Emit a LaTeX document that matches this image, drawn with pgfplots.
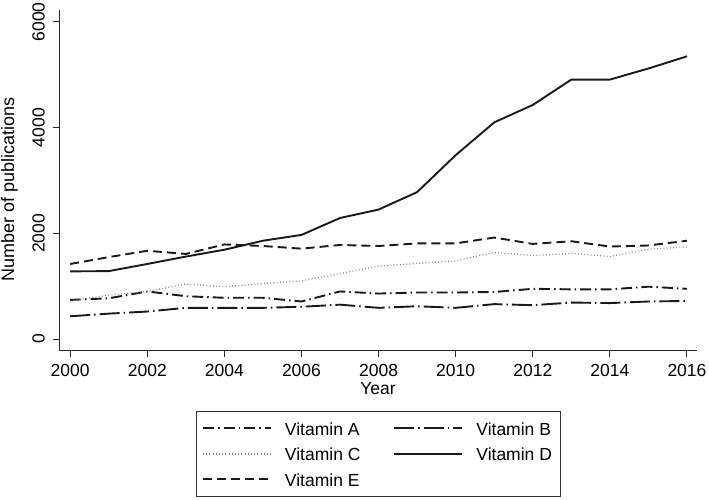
\documentclass[border=0pt]{standalone}
\usepackage{fontspec}
\setmainfont{Liberation Sans}
\usepackage{pgfplots}
\pgfplotsset{compat=1.18}
\begin{document}
\fontsize{17.5}{21}\selectfont
\begin{tikzpicture}[x=1pt,y=1pt]
\useasboundingbox (0,0) rectangle (709,500);
\begin{axis}[
  at={(59pt,149pt)}, anchor=south west,
  scale only axis, width=638pt, height=341pt,
  xmin=1999.71, xmax=2016.26, ymin=-227, ymax=6227,
  axis x line*=bottom, axis y line*=left,
  axis line style={line width=1pt, black!85},
  tick align=outside, major tick length=6pt,
  tick style={line width=1pt, black!85},
  xtick={2000,2002,...,2016}, ytick={0,2000,4000,6000},
  scaled ticks=false,
  /pgf/number format/assume math mode=true,
  /pgf/number format/set thousands separator={},
  tick label style={font=\fontsize{17.5}{21}\selectfont},
  yticklabel style={rotate=90, anchor=south, inner sep=0pt, yshift=8pt},
  xticklabel style={inner sep=0pt, yshift=-7pt, anchor=north},
  xlabel={Year}, ylabel={Number of publications},
  xlabel style={font=\fontsize{17.5}{21}\selectfont, at={(axis description cs:0.5,0)}, anchor=base, yshift=-44pt},
  ylabel style={font=\fontsize{18}{21}\selectfont, at={(axis description cs:0,0.5)}, anchor=center, xshift=-9pt, yshift=49.5pt},
  legend columns=2,
  legend cell align=left,
  legend style={at={(0.5,0)}, anchor=north, yshift=-60pt,
    draw=black!80, line width=0.8pt, inner xsep=6pt, inner ysep=8pt,
    font=\fontsize{17.5}{21}\selectfont,
    nodes={inner sep=2pt, text height=14pt, text depth=0pt},
    /tikz/every odd column/.append style={column sep=11pt},
    /tikz/every even column/.append style={column sep=31pt},
    row sep=7.5pt},
  legend image code/.code={\draw[#1] (0pt,0pt) -- (68pt,0pt);},
  every axis plot/.append style={line width=1.9pt, line join=round},
]
\addplot[black!90, dash pattern=on 11pt off 4pt on 1.5pt off 4pt] coordinates {
(2000,740)(2001,770)(2002,900)(2003,810)(2004,780)(2005,780)(2006,710)(2007,900)(2008,860)(2009,880)(2010,880)(2011,890)(2012,950)(2013,940)(2014,940)(2015,990)(2016,950)};
\addlegendentry{Vitamin A}
\addplot[black!90, dash pattern=on 20pt off 4pt on 1.5pt off 4pt] coordinates {
(2000,430)(2001,480)(2002,520)(2003,590)(2004,590)(2005,590)(2006,610)(2007,650)(2008,590)(2009,620)(2010,590)(2011,660)(2012,640)(2013,690)(2014,680)(2015,710)(2016,720)};
\addlegendentry{Vitamin B}
\addplot[black!45, line width=1.2pt, dash pattern=on 1pt off 2.2pt] coordinates {
(2000,720)(2001,830)(2002,900)(2003,1040)(2004,990)(2005,1050)(2006,1100)(2007,1240)(2008,1380)(2009,1430)(2010,1480)(2011,1640)(2012,1580)(2013,1620)(2014,1560)(2015,1700)(2016,1740)};
\addlegendentry{Vitamin C}
\addplot[black!90] coordinates {
(2000,1280)(2001,1285)(2002,1420)(2003,1560)(2004,1690)(2005,1860)(2006,1970)(2007,2290)(2008,2450)(2009,2780)(2010,3480)(2011,4100)(2012,4430)(2013,4910)(2014,4910)(2015,5120)(2016,5350)};
\addlegendentry{Vitamin D}
\addplot[black!90, dash pattern=on 9pt off 5pt] coordinates {
(2000,1420)(2001,1550)(2002,1670)(2003,1610)(2004,1790)(2005,1760)(2006,1710)(2007,1780)(2008,1760)(2009,1810)(2010,1810)(2011,1920)(2012,1800)(2013,1850)(2014,1750)(2015,1770)(2016,1860)};
\addlegendentry{Vitamin E}
\end{axis}
\end{tikzpicture}
\end{document}
